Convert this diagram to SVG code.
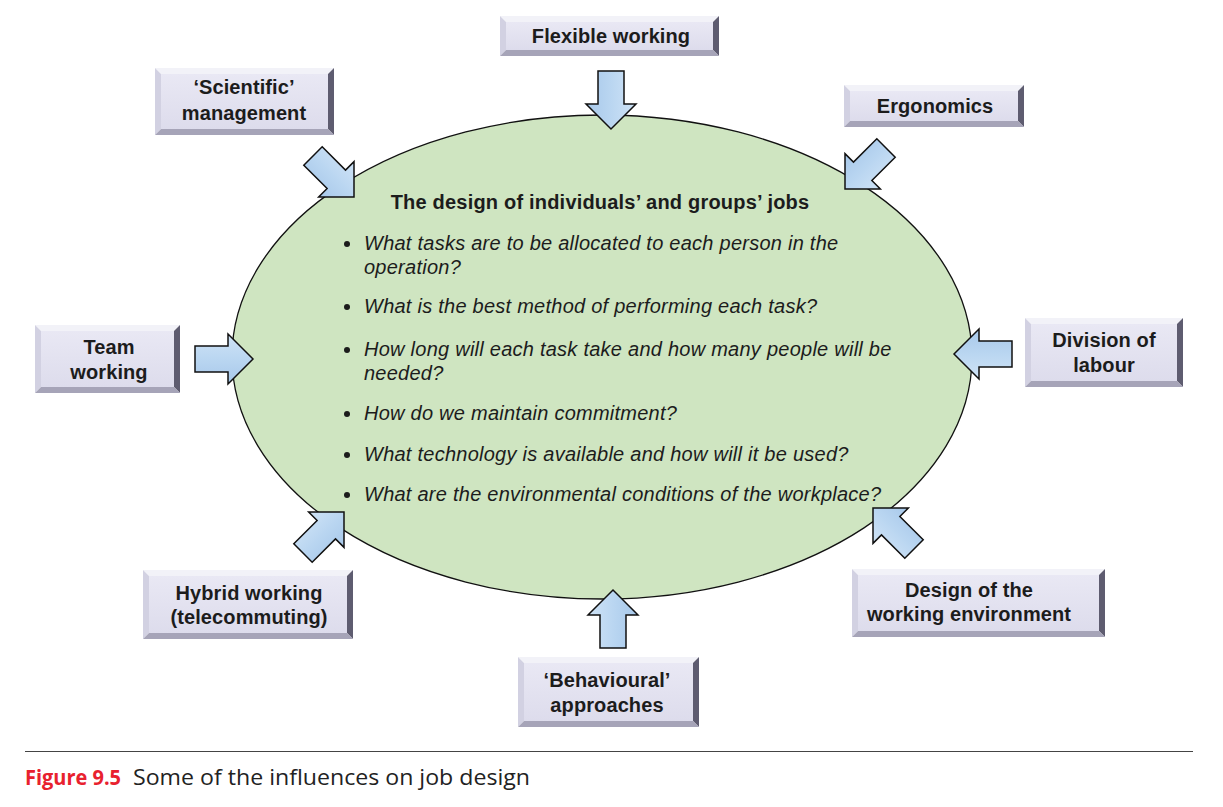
<svg xmlns="http://www.w3.org/2000/svg" xmlns:xlink="http://www.w3.org/1999/xlink" width="1223" height="807" viewBox="0 0 1223 807">
<style>
.bt{fill:#f2f2f8}
.bl{fill:#d2d1e2}
.br{fill:#5e5c70}
.bb{fill:#a6a4b8}
.face{fill:url(#faceg)}
.lbl{font-family:"Liberation Sans",Arial,sans-serif;font-weight:bold;font-size:20px;letter-spacing:0.1px;fill:#1c1c1c;text-anchor:middle}
.ttl{font-family:"Liberation Sans",Arial,sans-serif;font-weight:bold;font-size:20px;letter-spacing:0.2px;fill:#1c1c1c;text-anchor:middle}
.it{font-family:"Liberation Sans",Arial,sans-serif;font-style:italic;font-size:20px;letter-spacing:0.25px;fill:#1c1c1c}
.dot{fill:#1c1c1c}
.arr{fill:url(#arrg);stroke:#111;stroke-width:1.5;stroke-linejoin:miter}
.cap{font-family:"Open Sans","Noto Sans",sans-serif;font-size:21px}
</style>
<defs>
<linearGradient id="faceg" x1="0" y1="0" x2="0" y2="1">
<stop offset="0" stop-color="#e9e8f4"/>
<stop offset="1" stop-color="#dddcec"/>
</linearGradient>
<linearGradient id="arrg" gradientUnits="userSpaceOnUse" x1="0" y1="-25" x2="0" y2="25">
<stop offset="0" stop-color="#cfe3f6"/>
<stop offset="0.5" stop-color="#bad6f1"/>
<stop offset="1" stop-color="#a7c8ea"/>
</linearGradient>
<path id="arr" d="M-58,-13 H-25 V-25 L0,0 L-25,25 V13 H-58 Z"/>
</defs>
<rect width="1223" height="807" fill="#ffffff"/>

<g id="centre">
<ellipse cx="602" cy="357" rx="370" ry="242" fill="#cfe5c1" stroke="#111" stroke-width="1.3"/>
<text class="ttl" x="600" y="209">The design of individuals’ and groups’ jobs</text>
<circle class="dot" cx="347" cy="244" r="3"/>
<text class="it" x="364" y="250">What tasks are to be allocated to each person in the</text>
<text class="it" x="364" y="274">operation?</text>
<circle class="dot" cx="347" cy="307" r="3"/>
<text class="it" x="364" y="313">What is the best method of performing each task?</text>
<circle class="dot" cx="347" cy="350" r="3"/>
<text class="it" x="364" y="356">How long will each task take and how many people will be</text>
<text class="it" x="364" y="380">needed?</text>
<circle class="dot" cx="347" cy="414" r="3"/>
<text class="it" x="364" y="420">How do we maintain commitment?</text>
<circle class="dot" cx="347" cy="455" r="3"/>
<text class="it" x="364" y="461">What technology is available and how will it be used?</text>
<circle class="dot" cx="347" cy="495" r="3"/>
<text class="it" x="364" y="501">What are the environmental conditions of the workplace?</text>
</g>

<g id="connectors">
<use xlink:href="#arr" class="arr" transform="translate(611,129) rotate(90)"/>
<use xlink:href="#arr" class="arr" transform="translate(354,197) rotate(45)"/>
<use xlink:href="#arr" class="arr" transform="translate(845,189) rotate(135)"/>
<use xlink:href="#arr" class="arr" transform="translate(253,359)"/>
<use xlink:href="#arr" class="arr" transform="translate(954,354) rotate(180)"/>
<use xlink:href="#arr" class="arr" transform="translate(344,512) rotate(-45)"/>
<use xlink:href="#arr" class="arr" transform="translate(873,508) rotate(-135)"/>
<use xlink:href="#arr" class="arr" transform="translate(613,590) rotate(-90)"/>
</g>

<g id="flexible-working">
<polygon class="bt" points="500,16 719,16 713,22 506,22"/>
<polygon class="bl" points="500,16 506,22 506,50 500,56"/>
<polygon class="br" points="719,16 719,56 713,50 713,22"/>
<polygon class="bb" points="500,56 719,56 713,50 506,50"/>
<rect class="face" x="506" y="22" width="207" height="28"/>
<text class="lbl" x="611" y="43">Flexible working</text>
</g>

<g id="scientific-management">
<polygon class="bt" points="155,68 334,68 328,74 161,74"/>
<polygon class="bl" points="155,68 161,74 161,129 155,135"/>
<polygon class="br" points="334,68 334,135 328,129 328,74"/>
<polygon class="bb" points="155,135 334,135 328,129 161,129"/>
<rect class="face" x="161" y="74" width="167" height="55"/>
<text class="lbl" x="244" y="94">‘Scientific’</text>
<text class="lbl" x="244" y="120">management</text>
</g>

<g id="ergonomics">
<polygon class="bt" points="844,85 1024,85 1018,91 850,91"/>
<polygon class="bl" points="844,85 850,91 850,121 844,127"/>
<polygon class="br" points="1024,85 1024,127 1018,121 1018,91"/>
<polygon class="bb" points="844,127 1024,127 1018,121 850,121"/>
<rect class="face" x="850" y="91" width="168" height="30"/>
<text class="lbl" x="935" y="113">Ergonomics</text>
</g>

<g id="division-of-labour">
<polygon class="bt" points="1025,318 1183,318 1177,324 1031,324"/>
<polygon class="bl" points="1025,318 1031,324 1031,381 1025,387"/>
<polygon class="br" points="1183,318 1183,387 1177,381 1177,324"/>
<polygon class="bb" points="1025,387 1183,387 1177,381 1031,381"/>
<rect class="face" x="1031" y="324" width="146" height="57"/>
<text class="lbl" x="1104" y="347">Division of</text>
<text class="lbl" x="1104" y="372">labour</text>
</g>

<g id="design-of-working-environment">
<polygon class="bt" points="852,569 1105,569 1099,575 858,575"/>
<polygon class="bl" points="852,569 858,575 858,631 852,637"/>
<polygon class="br" points="1105,569 1105,637 1099,631 1099,575"/>
<polygon class="bb" points="852,637 1105,637 1099,631 858,631"/>
<rect class="face" x="858" y="575" width="241" height="56"/>
<text class="lbl" x="969" y="597">Design of the</text>
<text class="lbl" x="969" y="621">working environment</text>
</g>

<g id="hybrid-working">
<polygon class="bt" points="143,570 353,570 347,576 149,576"/>
<polygon class="bl" points="143,570 149,576 149,633 143,639"/>
<polygon class="br" points="353,570 353,639 347,633 347,576"/>
<polygon class="bb" points="143,639 353,639 347,633 149,633"/>
<rect class="face" x="149" y="576" width="198" height="57"/>
<text class="lbl" x="249" y="600">Hybrid working</text>
<text class="lbl" x="249" y="624">(telecommuting)</text>
</g>

<g id="team-working">
<polygon class="bt" points="35,325 180,325 174,331 41,331"/>
<polygon class="bl" points="35,325 41,331 41,387 35,393"/>
<polygon class="br" points="180,325 180,393 174,387 174,331"/>
<polygon class="bb" points="35,393 180,393 174,387 41,387"/>
<rect class="face" x="41" y="331" width="133" height="56"/>
<text class="lbl" x="109" y="354">Team</text>
<text class="lbl" x="109" y="379">working</text>
</g>

<g id="behavioural-approaches">
<polygon class="bt" points="518,657 699,657 693,663 524,663"/>
<polygon class="bl" points="518,657 524,663 524,721 518,727"/>
<polygon class="br" points="699,657 699,727 693,721 693,663"/>
<polygon class="bb" points="518,727 699,727 693,721 524,721"/>
<rect class="face" x="524" y="663" width="169" height="58"/>
<text class="lbl" x="607" y="687">‘Behavioural’</text>
<text class="lbl" x="607" y="712">approaches</text>
</g>

<g id="caption">
<line x1="25" y1="751.5" x2="1193" y2="751.5" stroke="#444" stroke-width="1"/>
<text class="cap" x="25" y="785" fill="#e8212e" font-weight="bold" textLength="96" lengthAdjust="spacingAndGlyphs">Figure 9.5</text>
<text class="cap" x="133" y="785" fill="#222" textLength="397" lengthAdjust="spacingAndGlyphs">Some of the influences on job design</text>
</g>
</svg>
